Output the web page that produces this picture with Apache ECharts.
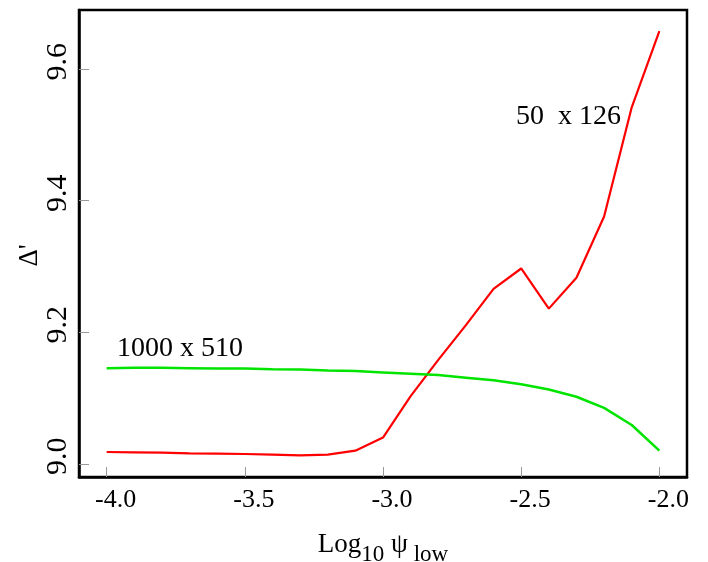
<!DOCTYPE html>
<html>
<head>
<meta charset="utf-8">
<script src="https://cdn.jsdelivr.net/npm/echarts@6/dist/echarts.min.js"></script>
<style>
  html, body { margin: 0; padding: 0; background: #fff; }
  #chart { width: 708px; height: 562px; }
</style>
</head>
<body>
<div id="chart"></div>
<script>
// log10 of psi_low, sampled every 0.1
const logPsi = [-4.0, -3.9, -3.8, -3.7, -3.6, -3.5, -3.4, -3.3, -3.2, -3.1, -3.0,
                -2.9, -2.8, -2.7, -2.6, -2.5, -2.4, -2.3, -2.2, -2.1, -2.0];

// Delta' on the 50 x 126 grid
const delta50x126 = [9.018, 9.0175, 9.017, 9.016, 9.0155, 9.015, 9.014, 9.013, 9.014, 9.020, 9.040,
                     9.103, 9.158, 9.211, 9.266, 9.297, 9.236, 9.283, 9.376, 9.542, 9.658];

// Delta' on the 1000 x 510 grid
const delta1000x510 = [9.1455, 9.146, 9.146, 9.1455, 9.145, 9.145, 9.144, 9.1435, 9.142, 9.141, 9.139,
                       9.137, 9.135, 9.131, 9.127, 9.121, 9.113, 9.102, 9.085, 9.059, 9.020];

const xTicks = [-4.0, -3.5, -3.0, -2.5, -2.0];
const yTicks = [9.0, 9.2, 9.4, 9.6];

const seriesNames = ['50  x 126', '1000 x 510'];

const serif = 'Liberation Serif';

const pairs = (xs, ys) => xs.map((x, i) => [x, ys[i]]);

const chart = echarts.init(document.getElementById('chart'), null, { renderer: 'canvas' });

chart.setOption({
  animation: false,
  backgroundColor: '#ffffff',
  grid: {
    left: 79, right: 21, top: 10, bottom: 85,
    outerBoundsMode: 'none',
    containLabel: false,
    show: true, borderColor: '#000', borderWidth: 2.5, backgroundColor: 'transparent'
  },
  xAxis: {
    type: 'value',
    min: -4.1, max: -1.9,
    splitLine: { show: false },
    axisLine: { lineStyle: { color: '#000', width: 2.5 } },
    axisTick: { inside: true, length: 10, customValues: xTicks, lineStyle: { color: '#999', width: 1 } },
    axisLabel: {
      customValues: xTicks,
      formatter: v => v.toFixed(1),
      fontFamily: serif, fontSize: 26, color: '#000', margin: 10,
      padding: [0, 0, 0, 18]
    },
    name: '{b|Log}{s|10}{b| ψ}{s| low}',
    nameLocation: 'middle',
    nameGap: 46,
    nameMoveOverlap: false,
    nameTextStyle: {
      rich: {
        b: { fontFamily: serif, fontSize: 27, color: '#000' },
        s: { fontFamily: serif, fontSize: 23, color: '#000', padding: [20, 0, 0, 0] }
      }
    }
  },
  yAxis: {
    type: 'value',
    min: 8.98, max: 9.69,
    splitLine: { show: false },
    axisLine: { lineStyle: { color: '#000', width: 2.5 } },
    axisTick: { inside: true, length: 10, customValues: yTicks, lineStyle: { color: '#999', width: 1 } },
    axisLabel: {
      customValues: yTicks,
      formatter: v => v.toFixed(1),
      rotate: 90,
      fontFamily: serif, fontSize: 30, color: '#000', margin: 6,
      padding: [0, 0, 0, 15]
    },
    name: "Δ'",
    nameLocation: 'middle',
    nameRotate: 90,
    nameGap: 36,
    nameMoveOverlap: false,
    nameTextStyle: { fontFamily: serif, fontSize: 27, color: '#000', padding: [0, 24, 0, 0] }
  },
  series: [
    {
      name: seriesNames[0],
      type: 'line',
      data: pairs(logPsi, delta50x126),
      showSymbol: false,
      lineStyle: { color: '#ff0000', width: 2.2 },
      z: 2
    },
    {
      name: seriesNames[1],
      type: 'line',
      data: pairs(logPsi, delta1000x510),
      showSymbol: false,
      lineStyle: { color: '#00e400', width: 2.5 },
      z: 3
    }
  ],
  graphic: [
    {
      type: 'text', left: 516, top: 103,
      style: { text: seriesNames[0], font: '28px "Liberation Serif"', fill: '#000' }
    },
    {
      type: 'text', left: 117, top: 335,
      style: { text: seriesNames[1], font: '28px "Liberation Serif"', fill: '#000' }
    }
  ]
});
</script>
</body>
</html>
